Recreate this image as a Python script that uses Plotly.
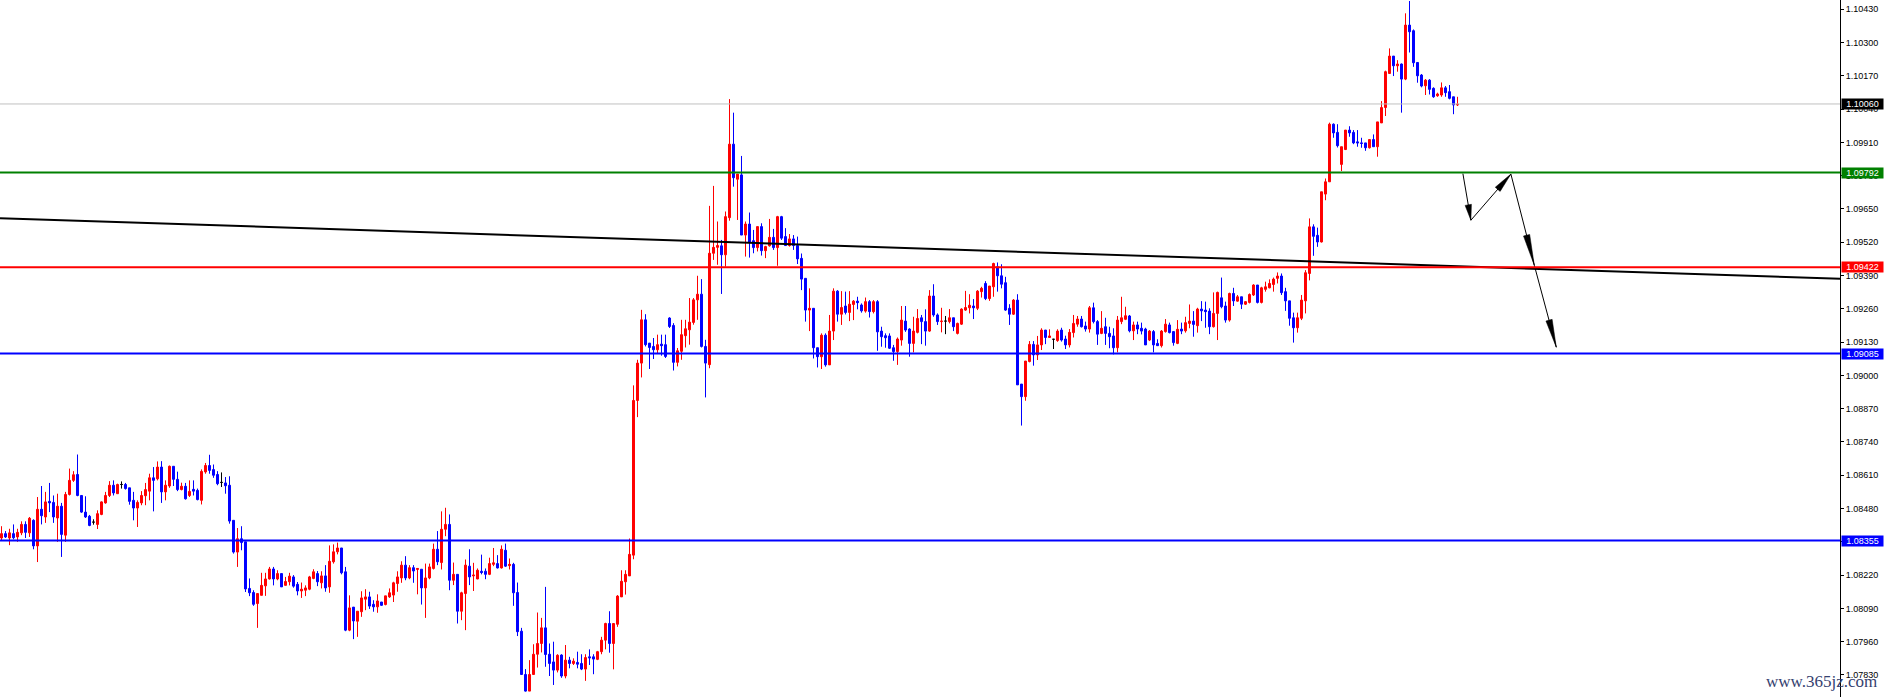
import math
import plotly.graph_objects as go

# ---------------- data ----------------
opens = [
    1.08365, 1.08382, 1.08365, 1.08382, 1.08369, 1.08385, 1.08418, 1.08385, 1.08434, 1.08334,
    1.08477, 1.08447, 1.08508, 1.08504, 1.08443, 1.08489, 1.08376, 1.08535, 1.08590, 1.08613,
    1.08531, 1.08466, 1.08450, 1.08427, 1.08418, 1.08457, 1.08502, 1.08531, 1.08571, 1.08538,
    1.08574, 1.08574, 1.08561, 1.08512, 1.08482, 1.08502, 1.08530, 1.08548, 1.08600, 1.08596,
    1.08642, 1.08545, 1.08568, 1.08645, 1.08594, 1.08554, 1.08567, 1.08531, 1.08555, 1.08551,
    1.08512, 1.08623, 1.08648, 1.08632, 1.08613, 1.08582, 1.08580, 1.08571, 1.08434, 1.08310,
    1.08362, 1.08350, 1.08168, 1.08152, 1.08109, 1.08141, 1.08178, 1.08205, 1.08244, 1.08205,
    1.08226, 1.08180, 1.08194, 1.08213, 1.08184, 1.08158, 1.08161, 1.08165, 1.08207, 1.08226,
    1.08190, 1.08217, 1.08174, 1.08272, 1.08311, 1.08326, 1.08233, 1.08005, 1.08095, 1.08040,
    1.08077, 1.08126, 1.08135, 1.08106, 1.08096, 1.08115, 1.08105, 1.08135, 1.08142, 1.08187,
    1.08209, 1.08259, 1.08209, 1.08249, 1.08242, 1.08243, 1.08170, 1.08209, 1.08246, 1.08321,
    1.08269, 1.08399, 1.08418, 1.08200, 1.08223, 1.08079, 1.08148, 1.08255, 1.08217, 1.08205,
    1.08235, 1.08235, 1.08223, 1.08262, 1.08265, 1.08248, 1.08317, 1.08257, 1.08262, 1.08152,
    1.08001, 1.07832, 1.07767, 1.07832, 1.07911, 1.07953, 1.08014, 1.07911, 1.07881, 1.07849,
    1.07908, 1.07826, 1.07888, 1.07875, 1.07879, 1.07875, 1.07853, 1.07901, 1.07901, 1.07891,
    1.07921, 1.07966, 1.08031, 1.07953, 1.08028, 1.08135, 1.08194, 1.08217, 1.08298, 1.08902,
    1.09048, 1.09217, 1.09126, 1.09113, 1.09100, 1.09122, 1.09120, 1.09224, 1.09195, 1.09051,
    1.09094, 1.09155, 1.09178, 1.09207, 1.09295, 1.09317, 1.09113, 1.09042, 1.09477, 1.09500,
    1.09506, 1.09471, 1.09616, 1.09903, 1.09766, 1.09783, 1.09548, 1.09591, 1.09526, 1.09499,
    1.09581, 1.09487, 1.09506, 1.09539, 1.09499, 1.09620, 1.09542, 1.09507, 1.09533, 1.09507,
    1.09457, 1.09379, 1.09255, 1.09262, 1.09108, 1.09073, 1.09157, 1.09041, 1.09173, 1.09329,
    1.09239, 1.09271, 1.09246, 1.09277, 1.09290, 1.09275, 1.09251, 1.09288, 1.09249, 1.09288,
    1.09173, 1.09155, 1.09154, 1.09108, 1.09093, 1.09138, 1.09212, 1.09181, 1.09125, 1.09168,
    1.09225, 1.09210, 1.09173, 1.09310, 1.09236, 1.09210, 1.09212, 1.09210, 1.09225, 1.09164,
    1.09200, 1.09255, 1.09264, 1.09271, 1.09262, 1.09327, 1.09359, 1.09300, 1.09346, 1.09424,
    1.09389, 1.09362, 1.09262, 1.09239, 1.09294, 1.08966, 1.08917, 1.09054, 1.09121, 1.09080,
    1.09119, 1.09177, 1.09148, 1.09141, 1.09136, 1.09177, 1.09142, 1.09119, 1.09167, 1.09200,
    1.09220, 1.09193, 1.09181, 1.09264, 1.09210, 1.09164, 1.09190, 1.09164, 1.09154, 1.09108,
    1.09210, 1.09219, 1.09232, 1.09174, 1.09197, 1.09184, 1.09181, 1.09138, 1.09171, 1.09125,
    1.09116, 1.09171, 1.09197, 1.09171, 1.09125, 1.09181, 1.09174, 1.09203, 1.09212, 1.09194,
    1.09259, 1.09255, 1.09251, 1.09190, 1.09242, 1.09303, 1.09271, 1.09216, 1.09320, 1.09290,
    1.09307, 1.09278, 1.09285, 1.09314, 1.09353, 1.09285, 1.09336, 1.09342, 1.09355, 1.09379,
    1.09388, 1.09327, 1.09291, 1.09225, 1.09186, 1.09223, 1.09291, 1.09398, 1.09580, 1.09547,
    1.09521, 1.09708, 1.09756, 1.09981, 1.09949, 1.09824, 1.09882, 1.09958, 1.09949, 1.09912,
    1.09908, 1.09908, 1.09889, 1.09921, 1.09893, 1.09986, 1.10046, 1.10179, 1.10247, 1.10209,
    1.10216, 1.10157, 1.10368, 1.10346, 1.10222, 1.10173, 1.10131, 1.10153, 1.10121, 1.10092,
    1.10095, 1.10123, 1.10108, 1.10088, 1.10056,
]
highs = [
    1.08411, 1.08392, 1.08401, 1.08418, 1.08401, 1.08430, 1.08430, 1.08447, 1.08438, 1.08525,
    1.08568, 1.08545, 1.08580, 1.08531, 1.08538, 1.08502, 1.08545, 1.08636, 1.08626, 1.08691,
    1.08531, 1.08528, 1.08455, 1.08438, 1.08473, 1.08508, 1.08545, 1.08587, 1.08590, 1.08577,
    1.08586, 1.08580, 1.08561, 1.08545, 1.08512, 1.08548, 1.08580, 1.08616, 1.08642, 1.08664,
    1.08665, 1.08590, 1.08648, 1.08645, 1.08624, 1.08581, 1.08580, 1.08590, 1.08590, 1.08558,
    1.08633, 1.08658, 1.08690, 1.08652, 1.08626, 1.08621, 1.08603, 1.08606, 1.08434, 1.08404,
    1.08411, 1.08350, 1.08207, 1.08161, 1.08148, 1.08229, 1.08229, 1.08252, 1.08252, 1.08239,
    1.08226, 1.08213, 1.08229, 1.08220, 1.08193, 1.08191, 1.08180, 1.08217, 1.08243, 1.08236,
    1.08235, 1.08259, 1.08336, 1.08340, 1.08347, 1.08326, 1.08252, 1.08141, 1.08095, 1.08079,
    1.08157, 1.08165, 1.08155, 1.08122, 1.08145, 1.08115, 1.08139, 1.08168, 1.08194, 1.08235,
    1.08274, 1.08294, 1.08259, 1.08259, 1.08246, 1.08243, 1.08265, 1.08265, 1.08343, 1.08392,
    1.08469, 1.08483, 1.08457, 1.08269, 1.08223, 1.08155, 1.08281, 1.08321, 1.08268, 1.08246,
    1.08300, 1.08246, 1.08288, 1.08326, 1.08298, 1.08336, 1.08343, 1.08285, 1.08268, 1.08191,
    1.08014, 1.07853, 1.07888, 1.07950, 1.08074, 1.08053, 1.08174, 1.07953, 1.07960, 1.07911,
    1.07911, 1.07947, 1.07901, 1.07895, 1.07921, 1.07911, 1.07911, 1.07930, 1.07911, 1.07924,
    1.07979, 1.08034, 1.08079, 1.08031, 1.08142, 1.08239, 1.08239, 1.08363, 1.08961, 1.09061,
    1.09256, 1.09239, 1.09126, 1.09146, 1.09159, 1.09159, 1.09159, 1.09227, 1.09204, 1.09107,
    1.09217, 1.09217, 1.09302, 1.09302, 1.09389, 1.09376, 1.09139, 1.09662, 1.09740, 1.09601,
    1.09529, 1.09640, 1.10079, 1.10026, 1.09786, 1.09857, 1.09601, 1.09636, 1.09568, 1.09581,
    1.09594, 1.09506, 1.09611, 1.09572, 1.09623, 1.09623, 1.09575, 1.09552, 1.09548, 1.09542,
    1.09476, 1.09379, 1.09340, 1.09262, 1.09108, 1.09164, 1.09164, 1.09236, 1.09340, 1.09333,
    1.09329, 1.09327, 1.09329, 1.09294, 1.09307, 1.09281, 1.09304, 1.09294, 1.09294, 1.09294,
    1.09190, 1.09164, 1.09164, 1.09119, 1.09148, 1.09271, 1.09271, 1.09184, 1.09229, 1.09259,
    1.09236, 1.09258, 1.09333, 1.09356, 1.09242, 1.09264, 1.09232, 1.09259, 1.09225, 1.09206,
    1.09262, 1.09330, 1.09317, 1.09298, 1.09333, 1.09346, 1.09368, 1.09349, 1.09440, 1.09441,
    1.09434, 1.09385, 1.09278, 1.09298, 1.09317, 1.08966, 1.09056, 1.09134, 1.09134, 1.09154,
    1.09184, 1.09177, 1.09180, 1.09142, 1.09180, 1.09186, 1.09155, 1.09181, 1.09236, 1.09232,
    1.09232, 1.09210, 1.09271, 1.09284, 1.09216, 1.09251, 1.09225, 1.09190, 1.09184, 1.09232,
    1.09307, 1.09268, 1.09236, 1.09210, 1.09210, 1.09206, 1.09186, 1.09177, 1.09177, 1.09141,
    1.09177, 1.09220, 1.09206, 1.09173, 1.09216, 1.09206, 1.09229, 1.09277, 1.09251, 1.09264,
    1.09290, 1.09288, 1.09262, 1.09324, 1.09327, 1.09382, 1.09288, 1.09323, 1.09342, 1.09314,
    1.09307, 1.09290, 1.09320, 1.09356, 1.09353, 1.09346, 1.09366, 1.09375, 1.09382, 1.09402,
    1.09398, 1.09342, 1.09291, 1.09245, 1.09245, 1.09314, 1.09411, 1.09613, 1.09590, 1.09577,
    1.09717, 1.09769, 1.09987, 1.09984, 1.09981, 1.09893, 1.09958, 1.09973, 1.09958, 1.09958,
    1.09928, 1.09908, 1.09921, 1.09941, 1.09990, 1.10071, 1.10190, 1.10277, 1.10247, 1.10231,
    1.10218, 1.10414, 1.10462, 1.10351, 1.10222, 1.10177, 1.10157, 1.10157, 1.10125, 1.10104,
    1.10144, 1.10130, 1.10134, 1.10088, 1.10088,
]
lows = [
    1.08356, 1.08365, 1.08337, 1.08360, 1.08350, 1.08376, 1.08365, 1.08369, 1.08321, 1.08271,
    1.08418, 1.08424, 1.08466, 1.08424, 1.08350, 1.08291, 1.08350, 1.08531, 1.08584, 1.08528,
    1.08463, 1.08443, 1.08411, 1.08417, 1.08400, 1.08454, 1.08499, 1.08525, 1.08531, 1.08538,
    1.08558, 1.08554, 1.08495, 1.08434, 1.08408, 1.08493, 1.08493, 1.08512, 1.08469, 1.08590,
    1.08502, 1.08512, 1.08561, 1.08568, 1.08548, 1.08551, 1.08515, 1.08525, 1.08531, 1.08512,
    1.08496, 1.08616, 1.08616, 1.08600, 1.08571, 1.08564, 1.08538, 1.08421, 1.08304, 1.08252,
    1.08317, 1.08154, 1.08138, 1.08100, 1.08014, 1.08141, 1.08139, 1.08203, 1.08180, 1.08200,
    1.08174, 1.08180, 1.08180, 1.08171, 1.08141, 1.08131, 1.08138, 1.08161, 1.08204, 1.08177,
    1.08168, 1.08155, 1.08151, 1.08265, 1.08301, 1.08223, 1.08001, 1.08001, 1.07970, 1.07979,
    1.08057, 1.08083, 1.08088, 1.08077, 1.08073, 1.08100, 1.08102, 1.08131, 1.08115, 1.08155,
    1.08190, 1.08200, 1.08204, 1.08190, 1.08145, 1.08105, 1.08053, 1.08204, 1.08242, 1.08259,
    1.08242, 1.08372, 1.08161, 1.08181, 1.08031, 1.08044, 1.08005, 1.08181, 1.08158, 1.08204,
    1.08223, 1.08204, 1.08220, 1.08255, 1.08246, 1.08246, 1.08252, 1.08242, 1.08100, 1.07982,
    1.07830, 1.07765, 1.07767, 1.07832, 1.07859, 1.07918, 1.07862, 1.07826, 1.07791, 1.07840,
    1.07819, 1.07817, 1.07856, 1.07869, 1.07856, 1.07849, 1.07807, 1.07869, 1.07833, 1.07888,
    1.07911, 1.07930, 1.07917, 1.07852, 1.08018, 1.08135, 1.08144, 1.08217, 1.08282, 1.08837,
    1.08992, 1.09113, 1.09025, 1.09064, 1.09087, 1.09077, 1.09068, 1.09185, 1.09019, 1.09035,
    1.09061, 1.09109, 1.09120, 1.09198, 1.09217, 1.09109, 1.08914, 1.09028, 1.09451, 1.09432,
    1.09318, 1.09425, 1.09604, 1.09737, 1.09607, 1.09548, 1.09464, 1.09460, 1.09477, 1.09484,
    1.09468, 1.09458, 1.09503, 1.09490, 1.09428, 1.09529, 1.09507, 1.09503, 1.09490, 1.09435,
    1.09333, 1.09210, 1.09173, 1.09066, 1.09031, 1.09025, 1.09034, 1.09041, 1.09138, 1.09210,
    1.09197, 1.09238, 1.09212, 1.09216, 1.09258, 1.09245, 1.09245, 1.09226, 1.09242, 1.09096,
    1.09112, 1.09108, 1.09103, 1.09057, 1.09041, 1.09116, 1.09170, 1.09073, 1.09090, 1.09164,
    1.09122, 1.09116, 1.09170, 1.09229, 1.09197, 1.09168, 1.09161, 1.09203, 1.09173, 1.09160,
    1.09197, 1.09252, 1.09242, 1.09220, 1.09255, 1.09304, 1.09294, 1.09291, 1.09307, 1.09327,
    1.09340, 1.09252, 1.09197, 1.09236, 1.08963, 1.08804, 1.08901, 1.09051, 1.09038, 1.09060,
    1.09099, 1.09122, 1.09148, 1.09103, 1.09131, 1.09132, 1.09103, 1.09109, 1.09148, 1.09190,
    1.09187, 1.09171, 1.09167, 1.09203, 1.09119, 1.09161, 1.09119, 1.09106, 1.09082, 1.09090,
    1.09200, 1.09216, 1.09168, 1.09138, 1.09161, 1.09160, 1.09119, 1.09134, 1.09090, 1.09116,
    1.09109, 1.09167, 1.09164, 1.09116, 1.09122, 1.09161, 1.09167, 1.09184, 1.09151, 1.09167,
    1.09212, 1.09186, 1.09161, 1.09187, 1.09138, 1.09262, 1.09206, 1.09210, 1.09271, 1.09288,
    1.09259, 1.09275, 1.09281, 1.09310, 1.09281, 1.09281, 1.09327, 1.09340, 1.09327, 1.09359,
    1.09314, 1.09252, 1.09194, 1.09128, 1.09167, 1.09216, 1.09242, 1.09371, 1.09467, 1.09502,
    1.09519, 1.09684, 1.09756, 1.09928, 1.09890, 1.09798, 1.09880, 1.09932, 1.09903, 1.09893,
    1.09889, 1.09877, 1.09886, 1.09893, 1.09854, 1.09986, 1.10013, 1.10177, 1.10169, 1.10186,
    1.10026, 1.10153, 1.10261, 1.10205, 1.10143, 1.10125, 1.10095, 1.10097, 1.10084, 1.10088,
    1.10088, 1.10088, 1.10078, 1.10020, 1.10052,
]
closes = [
    1.08382, 1.08369, 1.08385, 1.08366, 1.08387, 1.08418, 1.08387, 1.08442, 1.08334, 1.08477,
    1.08452, 1.08506, 1.08502, 1.08447, 1.08489, 1.08379, 1.08535, 1.08590, 1.08612, 1.08531,
    1.08466, 1.08447, 1.08414, 1.08427, 1.08460, 1.08506, 1.08531, 1.08571, 1.08541, 1.08574,
    1.08574, 1.08558, 1.08508, 1.08482, 1.08504, 1.08531, 1.08554, 1.08600, 1.08590, 1.08642,
    1.08545, 1.08571, 1.08645, 1.08594, 1.08554, 1.08567, 1.08518, 1.08547, 1.08548, 1.08515,
    1.08625, 1.08648, 1.08629, 1.08610, 1.08577, 1.08582, 1.08569, 1.08431, 1.08310, 1.08362,
    1.08347, 1.08166, 1.08151, 1.08106, 1.08148, 1.08180, 1.08205, 1.08244, 1.08205, 1.08226,
    1.08174, 1.08195, 1.08216, 1.08177, 1.08158, 1.08165, 1.08170, 1.08213, 1.08233, 1.08194,
    1.08217, 1.08170, 1.08274, 1.08311, 1.08326, 1.08229, 1.08005, 1.08092, 1.08041, 1.08079,
    1.08131, 1.08135, 1.08099, 1.08096, 1.08119, 1.08102, 1.08139, 1.08151, 1.08190, 1.08213,
    1.08259, 1.08209, 1.08249, 1.08236, 1.08246, 1.08170, 1.08209, 1.08252, 1.08321, 1.08272,
    1.08399, 1.08418, 1.08200, 1.08223, 1.08079, 1.08151, 1.08259, 1.08213, 1.08220, 1.08239,
    1.08230, 1.08223, 1.08265, 1.08268, 1.08248, 1.08321, 1.08255, 1.08262, 1.08151, 1.07999,
    1.07832, 1.07767, 1.07832, 1.07911, 1.07953, 1.08014, 1.07910, 1.07875, 1.07849, 1.07907,
    1.07826, 1.07888, 1.07875, 1.07884, 1.07872, 1.07853, 1.07898, 1.07897, 1.07892, 1.07921,
    1.07966, 1.08031, 1.07953, 1.08031, 1.08138, 1.08196, 1.08223, 1.08301, 1.08902, 1.09048,
    1.09217, 1.09120, 1.09109, 1.09100, 1.09120, 1.09116, 1.09074, 1.09191, 1.09051, 1.09096,
    1.09159, 1.09182, 1.09208, 1.09295, 1.09317, 1.09113, 1.09048, 1.09477, 1.09500, 1.09507,
    1.09471, 1.09620, 1.09903, 1.09772, 1.09786, 1.09548, 1.09591, 1.09519, 1.09499, 1.09581,
    1.09487, 1.09503, 1.09539, 1.09499, 1.09620, 1.09536, 1.09507, 1.09533, 1.09507, 1.09455,
    1.09376, 1.09255, 1.09262, 1.09108, 1.09073, 1.09157, 1.09041, 1.09173, 1.09329, 1.09239,
    1.09265, 1.09246, 1.09278, 1.09290, 1.09284, 1.09252, 1.09288, 1.09249, 1.09288, 1.09170,
    1.09151, 1.09147, 1.09106, 1.09093, 1.09142, 1.09216, 1.09177, 1.09125, 1.09173, 1.09222,
    1.09210, 1.09173, 1.09310, 1.09236, 1.09210, 1.09212, 1.09212, 1.09225, 1.09190, 1.09203,
    1.09259, 1.09265, 1.09274, 1.09264, 1.09329, 1.09340, 1.09300, 1.09349, 1.09437, 1.09389,
    1.09356, 1.09255, 1.09239, 1.09294, 1.08963, 1.08917, 1.09056, 1.09121, 1.09080, 1.09119,
    1.09177, 1.09148, 1.09154, 1.09141, 1.09173, 1.09138, 1.09119, 1.09168, 1.09203, 1.09220,
    1.09190, 1.09181, 1.09264, 1.09210, 1.09161, 1.09184, 1.09164, 1.09151, 1.09108, 1.09216,
    1.09225, 1.09233, 1.09174, 1.09197, 1.09181, 1.09173, 1.09119, 1.09173, 1.09119, 1.09116,
    1.09173, 1.09200, 1.09167, 1.09128, 1.09180, 1.09173, 1.09206, 1.09212, 1.09199, 1.09259,
    1.09252, 1.09249, 1.09190, 1.09242, 1.09324, 1.09268, 1.09216, 1.09320, 1.09291, 1.09307,
    1.09278, 1.09288, 1.09316, 1.09353, 1.09285, 1.09342, 1.09346, 1.09359, 1.09376, 1.09388,
    1.09323, 1.09291, 1.09223, 1.09186, 1.09225, 1.09294, 1.09401, 1.09580, 1.09543, 1.09521,
    1.09717, 1.09756, 1.09981, 1.09947, 1.09897, 1.09893, 1.09958, 1.09947, 1.09908, 1.09908,
    1.09906, 1.09889, 1.09921, 1.09893, 1.09990, 1.10046, 1.10186, 1.10247, 1.10209, 1.10216,
    1.10157, 1.10368, 1.10342, 1.10221, 1.10170, 1.10130, 1.10153, 1.10117, 1.10088, 1.10099,
    1.10123, 1.10104, 1.10082, 1.10056, 1.10059,
]
doji_bars = [23, 30, 55, 236, 263]

level_prices = [1.10060, 1.09792, 1.09422, 1.09085, 1.08355]
level_line_colors = ["#C0C0C0", "#008000", "#FF0000", "#0000FF", "#0000FF"]
level_line_widths = [1, 2, 2, 2, 2]
level_label_bg = ["#000000", "#008000", "#FF0000", "#0000FF", "#0000FF"]

trend_bars = [-0.375, 459.625]
trend_prices = [1.09614, 1.09377]

path_bars = [365.35, 367.35, 377.35, 383.2, 388.7]
path_prices = [1.09788, 1.09606, 1.09786, 1.09430, 1.09110]

tick_values = [1.07830, 1.07960, 1.08090, 1.08220, 1.08350, 1.08480, 1.08610,
               1.08740, 1.08870, 1.09000, 1.09130, 1.09260, 1.09390, 1.09520,
               1.09650, 1.09780, 1.09910, 1.10040, 1.10170, 1.10300, 1.10430]
tick_labels = [f"{v:.5f}" for v in tick_values]

watermark = "www.365jz.com"

# ---------------- layout constants ----------------
W, H = 1886, 697
M_R = 46
PLOT_W, PLOT_H = W - M_R, H
X_RANGE = [-0.375, 459.625]
Y_RANGE = [1.07744, 1.10466]

fig = go.Figure()

bars = list(range(len(closes)))
main = [i for i in bars if i not in doji_bars]


def pick(seq, idx):
    return [seq[i] for i in idx]


fig.add_trace(go.Candlestick(
    x=main, open=pick(opens, main), high=pick(highs, main),
    low=pick(lows, main), close=pick(closes, main),
    increasing=dict(line=dict(color="#FF0000", width=1), fillcolor="#FF0000"),
    decreasing=dict(line=dict(color="#0000FF", width=1), fillcolor="#0000FF"),
    whiskerwidth=0, showlegend=False, hoverinfo="skip",
))
fig.add_trace(go.Candlestick(
    x=doji_bars, open=pick(opens, doji_bars), high=pick(highs, doji_bars),
    low=pick(lows, doji_bars), close=pick(closes, doji_bars),
    increasing=dict(line=dict(color="#000000", width=1), fillcolor="#000000"),
    decreasing=dict(line=dict(color="#000000", width=1), fillcolor="#000000"),
    whiskerwidth=0, showlegend=False, hoverinfo="skip",
))

# trend line
fig.add_trace(go.Scatter(x=trend_bars, y=trend_prices, mode="lines",
                         line=dict(color="#000000", width=2),
                         showlegend=False, hoverinfo="skip"))

# arrows: thin shaft + slender filled head
sx = PLOT_W / (X_RANGE[1] - X_RANGE[0])
sy = PLOT_H / (Y_RANGE[1] - Y_RANGE[0])
for i in range(len(path_bars) - 1):
    x0, y0 = path_bars[i], path_prices[i]
    x1, y1 = path_bars[i + 1], path_prices[i + 1]
    dx, dy = (x1 - x0) * sx, (y1 - y0) * sy
    length = math.hypot(dx, dy)
    ux, uy = dx / length, dy / length
    nx, ny = -uy, ux
    head = 0.33 * length
    hw = 3.2
    bx, by = -ux * head, -uy * head
    pts = [(0, 0), (bx + nx * hw, by + ny * hw), (bx - nx * hw, by - ny * hw), (0, 0)]
    fig.add_trace(go.Scatter(x=[x0, x1], y=[y0, y1], mode="lines",
                             line=dict(color="#000000", width=1),
                             showlegend=False, hoverinfo="skip"))
    fig.add_trace(go.Scatter(x=[x1 + px / sx for px, py in pts],
                             y=[y1 + py / sy for px, py in pts],
                             mode="lines", fill="toself", fillcolor="#000000",
                             line=dict(color="#000000", width=0.5),
                             showlegend=False, hoverinfo="skip"))

shapes = []
annotations = []
for p, lc, lw, bg in zip(level_prices, level_line_colors, level_line_widths, level_label_bg):
    shapes.append(dict(type="line", xref="paper", x0=0, x1=1, yref="y", y0=p, y1=p,
                       line=dict(color=lc, width=lw), layer="above"))
    annotations.append(dict(xref="paper", x=1, xanchor="left", xshift=1,
                            yref="y", y=p, yanchor="middle",
                            text=f"{p:.5f}", showarrow=False, bgcolor=bg,
                            width=41, height=10, borderpad=0,
                            font=dict(family="Liberation Sans", size=9, color="#FFFFFF")))

annotations.append(dict(xref="paper", x=1, xanchor="right", xshift=39,
                        yref="paper", y=0, yanchor="middle", yshift=16,
                        text=watermark, showarrow=False,
                        font=dict(family="Liberation Serif", size=17, color="#35416F")))

fig.update_layout(
    width=W, height=H,
    margin=dict(l=0, r=M_R, t=0, b=0),
    paper_bgcolor="#FFFFFF", plot_bgcolor="#FFFFFF",
    showlegend=False, hovermode=False,
    boxgap=0.3, boxgroupgap=0.3,
    shapes=shapes, annotations=annotations,
    xaxis=dict(range=X_RANGE, visible=False, rangeslider=dict(visible=False),
               showgrid=False, zeroline=False, fixedrange=True),
    yaxis=dict(range=Y_RANGE, side="right", showgrid=False, zeroline=False,
               showline=True, linecolor="#000000", linewidth=1,
               ticks="outside", ticklen=3, tickcolor="#000000", tickwidth=1,
               tickvals=tick_values, ticktext=tick_labels,
               tickfont=dict(family="Liberation Sans", size=9, color="#000000"),
               automargin=False, fixedrange=True),
)

fig.write_html(
    "out.html",
    config={"displayModeBar": False},
    post_script="document.body.style.margin='0px';document.body.style.overflow='hidden';",
)
